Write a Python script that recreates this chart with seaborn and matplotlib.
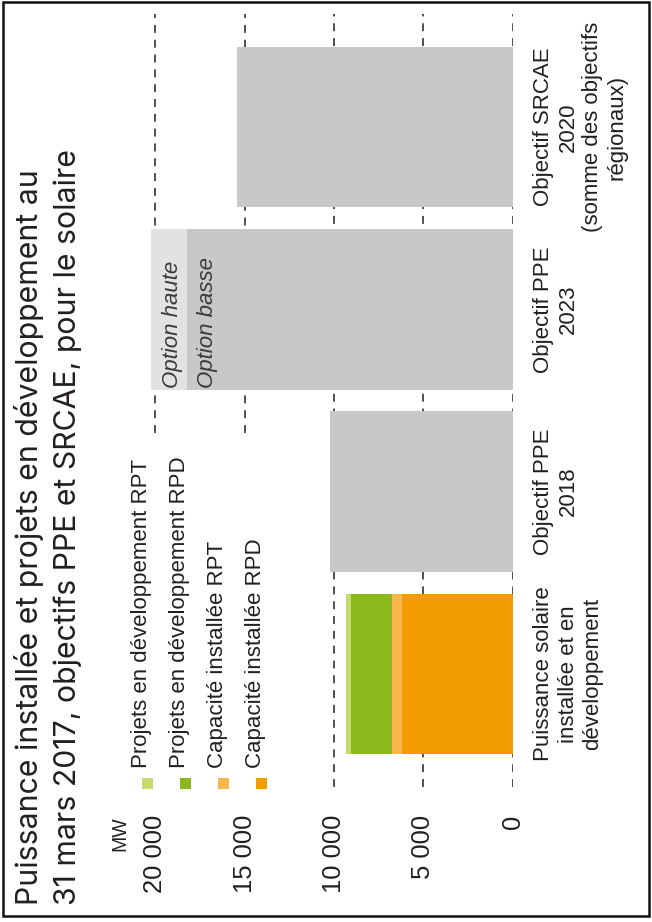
import numpy as np
import pandas as pd
import seaborn as sns
import matplotlib.pyplot as plt
from matplotlib import font_manager
from matplotlib.patches import Rectangle

# categories (bottom to top once rotated)
cat_keys = ["installe", "ppe2018", "ppe2023", "srcae"]
cat_labels = ["Puissance solaire\ninstallée et en\ndéveloppement",
              "Objectif PPE\n2018",
              "Objectif PPE\n2023",
              "Objectif SRCAE\n2020\n(somme des objectifs\nrégionaux)"]

# MW values
installee_rpd = [6200, 0, 0, 0]
installee_rpt = [560, 0, 0, 0]
projets_rpd = [2290, 0, 0, 0]
projets_rpt = [280, 0, 0, 0]
objectif = [0, 10200, 18200, 15400]
option_haute = [0, 0, 20200, 0]

legend_labels = ["Projets en développement RPT", "Projets en développement RPD",
                 "Capacité installée RPT", "Capacité installée RPD"]
legend_colors = ["#c6d96e", "#8cb81c", "#f7b84b", "#f39c00"]

grid_ticks = [0, 5000, 10000, 15000, 20000]
tick_labels = ["0", "5 000", "10 000", "15 000", "20 000"]

title_lines = ["Puissance installée et projets en développement au",
               "31 mars 2017, objectifs PPE et SRCAE, pour le solaire"]
title_len = [735, 757]  # pixel length of each line in the reference

gray = "#c6c8ca"
light_gray = "#e1e2e3"
txt = "#231f20"

names = {f.name for f in font_manager.fontManager.ttflist}
if "Liberation Sans Narrow" in names:
    narrow, fs = "Liberation Sans Narrow", 19.4
else:
    narrow, fs = "Liberation Sans", 16

sns.set_style("white")
plt.rcParams["font.family"] = [narrow, "DejaVu Sans"]

W, H = 652, 922
fx = lambda x: x / W
fy = lambda y: 1 - y / H

fig = plt.figure(figsize=(6.52, 9.22), dpi=100)
ax = fig.add_axes([137.1 / W, (H - 787) / H, 375.9 / W, 773 / H])

# pick a title font whose two lines have the reference proportions
renderer = fig.canvas.get_renderer()
best = None
for fam in ["Open Sans", "Lato", "Roboto", "Noto Sans", "Inter", "DejaVu Sans", "Liberation Sans"]:
    if fam not in names:
        continue
    ws = []
    for line in title_lines:
        t = fig.text(0, 0, line, fontsize=20, family=fam)
        ws.append(t.get_window_extent(renderer).width)
        t.remove()
    err = abs(ws[1] / ws[0] - title_len[1] / title_len[0])
    if best is None or err < best[0]:
        best = (err, fam, 20 * sum(title_len) / sum(ws))
_, title_font, title_fs = best

# stacked bar drawn from the total down
stack = [projets_rpt, projets_rpd, installee_rpt, installee_rpd]
cum = np.cumsum(np.array(stack[::-1]), axis=0)[::-1]
layers = [(option_haute, light_gray), (objectif, gray)]
layers += [(cum[i], legend_colors[i]) for i in range(4)]
for vals, col in layers:
    df = pd.DataFrame({"cat": cat_keys, "val": vals})
    sns.barplot(data=df, x="val", y="cat", order=cat_keys, orient="h", color=col,
                saturation=1, width=0.88, linewidth=0, errorbar=None, ax=ax, zorder=2)

ax.set_xlim(21000, 0)
ax.set_ylim(-0.62, 3.62)
ax.set_xlabel("")
ax.set_ylabel("")
ax.set_yticks([])
sns.despine(ax=ax, left=True, bottom=True)

# dashed gridlines (the two top ones stop above the legend)
dash = (0, (5.2, 4.5))
ax.vlines(grid_ticks[:3], -0.62, 3.62, colors=txt, linestyles=dash, lw=1.1, zorder=1)
ax.vlines(grid_ticks[3:], 1.32, 3.62, colors=txt, linestyles=dash, lw=1.1, zorder=1)

ax.set_xticks(grid_ticks, labels=tick_labels, rotation=90)
ax.tick_params(axis="x", length=0, pad=20, labelsize=fs * 1.15, labelcolor=txt)

# category labels on the right
for i, lab in enumerate(cat_labels):
    ax.annotate(lab, xy=(0, i), xytext=(14.4, 0), textcoords="offset points",
                rotation=90, rotation_mode="anchor", ha="center", va="top",
                multialignment="center", linespacing=1.22, fontsize=fs, color=txt,
                annotation_clip=False)

# option labels in the PPE 2023 bar
fig.text(fx(178), fy(388), "Option haute", rotation=90, rotation_mode="anchor",
         ha="left", va="baseline", fontsize=fs, style="italic", color="#3a3a3a")
fig.text(fx(213), fy(388), "Option basse", rotation=90, rotation_mode="anchor",
         ha="left", va="baseline", fontsize=fs, style="italic", color="#3a3a3a")

# title
for line, bx in zip(title_lines, [38, 76]):
    fig.text(fx(bx), fy(905), line, rotation=90, rotation_mode="anchor",
             ha="left", va="baseline", fontsize=title_fs, color=txt, family=title_font)

# unit
fig.text(fx(125), fy(816), "MW", rotation=90, rotation_mode="anchor",
         ha="right", va="baseline", fontsize=fs * 0.88, color=txt)

# legend, rotated by hand
for k, (lab, col) in enumerate(zip(legend_labels, legend_colors)):
    base = 147 + 38 * k
    fig.add_artist(Rectangle((fx(base - 5.5), fy(789)), 11 / W, 11 / H,
                             transform=fig.transFigure, color=col, lw=0))
    fig.text(fx(base), fy(768), lab, rotation=90, rotation_mode="anchor",
             ha="left", va="baseline", fontsize=fs, color=txt)

# frame around the figure
fig.add_artist(Rectangle((fx(3), fy(916)), 646 / W, 914 / H, transform=fig.transFigure,
                         fill=False, lw=1.8, edgecolor="#111111"))

fig.savefig("out.png", dpi=100)
